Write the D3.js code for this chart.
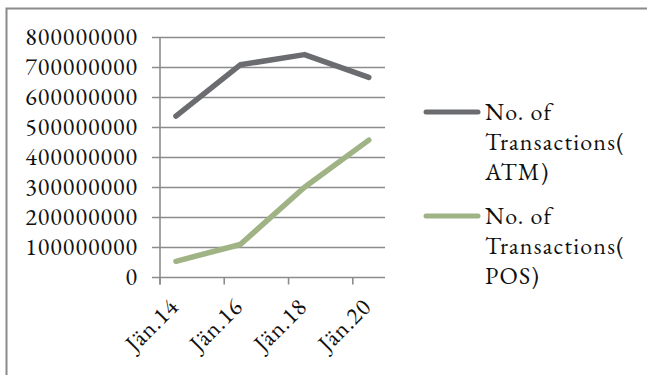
<!DOCTYPE html>
<html>
<head>
<meta charset="utf-8">
<script src="https://cdn.jsdelivr.net/npm/d3@7"></script>
<style>
  html, body { margin: 0; padding: 0; background: #fff; }
  svg { display: block; }
</style>
</head>
<body>
<svg id="chart" width="647" height="375"></svg>
<script>
// Observation dates (mid-year) and transaction counts
const dates = ["2014-07-01", "2016-07-01", "2018-07-01", "2020-07-01"];
const atmValues = [538000000, 709000000, 743000000, 667000000];
const posValues = [54000000, 110000000, 301000000, 458000000];
const tickDates = ["2014-01-01", "2016-01-01", "2018-01-01", "2020-01-01"];
const tickLabels = ["Jän.14", "Jän.16", "Jän.18", "Jän.20"];
const yTicks = [0, 100000000, 200000000, 300000000, 400000000, 500000000, 600000000, 700000000, 800000000];
const seriesNames = [["No. of", "Transactions(", "ATM)"], ["No. of", "Transactions(", "POS)"]];
const seriesColors = ["#6b6c70", "#9fb385"];

const FONT = "\"EB Garamond\"";
const parse = d3.utcParse("%Y-%m-%d");
const svg = d3.select("#chart");

function label(sel, size, spacing) {
  return sel.style("font-family", FONT)
    .attr("font-size", size)
    .attr("letter-spacing", spacing)
    .attr("fill", "#111");
}

// outer frame of the chart area
svg.append("rect")
  .attr("x", 6.5).attr("y", 8.5)
  .attr("width", 700).attr("height", 500)
  .attr("fill", "#fff").attr("stroke", "#8a8a8a").attr("stroke-width", 2);

const x = d3.scaleUtc()
  .domain([parse("2014-01-01"), parse("2021-01-01")])
  .range([160, 385]);
const y = d3.scaleLinear().domain([0, 800000000]).range([277.5, 37.5]);

const grid = svg.append("g");
// horizontal gridlines (extending left as tick marks)
grid.selectAll("line.h").data(yTicks).join("line")
  .attr("class", "h")
  .attr("x1", 152).attr("x2", 385)
  .attr("y1", d => y(d)).attr("y2", d => y(d))
  .attr("stroke", "#8c8c8c").attr("stroke-width", 1.6);

// vertical axis line
grid.append("line")
  .attr("x1", x.range()[0]).attr("x2", x.range()[0])
  .attr("y1", y(800000000)).attr("y2", y(0) + 7)
  .attr("stroke", "#8c8c8c").attr("stroke-width", 1.6);

// category ticks below the baseline
grid.selectAll("line.t").data(tickDates).join("line")
  .attr("class", "t")
  .attr("x1", d => x(parse(d))).attr("x2", d => x(parse(d)))
  .attr("y1", y(0)).attr("y2", y(0) + 7)
  .attr("stroke", "#8c8c8c").attr("stroke-width", 1.6);

// y tick labels
label(svg.append("g").selectAll("text").data(yTicks).join("text"), 24, 1)
  .attr("x", 138).attr("y", d => y(d) + 7.5)
  .attr("text-anchor", "end")
  .text(d => d3.format("d")(d));

// rotated x labels
label(svg.append("g").selectAll("text").data(tickDates).join("text"), 24, 0.8)
  .attr("text-anchor", "end")
  .attr("transform", d => `translate(${x(parse(d)) + 20},308) rotate(-45)`)
  .text((d, i) => tickLabels[i]);

// series lines
const line = d3.line()
  .x((d, i) => x(parse(dates[i])))
  .y(d => y(d));

[atmValues, posValues].forEach((vals, i) => {
  svg.append("path")
    .datum(vals)
    .attr("d", line)
    .attr("fill", "none")
    .attr("stroke", seriesColors[i])
    .attr("stroke-width", 5.5)
    .attr("stroke-linecap", "round")
    .attr("stroke-linejoin", "round");
});

// legend
const legend = svg.append("g");
const legendTop = [112, 216];
seriesNames.forEach((lines, i) => {
  const ly = legendTop[i];
  legend.append("line")
    .attr("x1", 426).attr("x2", 478)
    .attr("y1", ly).attr("y2", ly)
    .attr("stroke", seriesColors[i])
    .attr("stroke-width", 5)
    .attr("stroke-linecap", "round");
  label(legend.append("text"), 24, 1.2)
    .attr("x", 485).attr("y", ly + 7.5)
    .selectAll("tspan").data(lines).join("tspan")
    .attr("x", 485)
    .attr("dy", (d, j) => j === 0 ? 0 : 30)
    .text(d => d);
});
</script>
</body>
</html>
